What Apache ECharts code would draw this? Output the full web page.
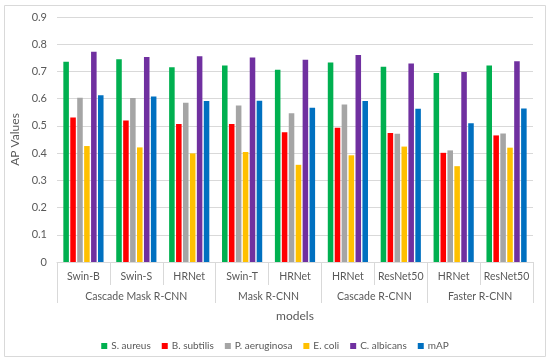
<!DOCTYPE html>
<html><head><meta charset="utf-8">
<script src="https://cdn.jsdelivr.net/npm/echarts@6/dist/echarts.min.js"></script>
<style>html,body{margin:0;padding:0;background:#fff}#c{width:550px;height:362px}</style>
</head><body><div id="c"></div>
<script>
const categories = ['Swin-B','Swin-S','HRNet','Swin-T','HRNet','HRNet','ResNet50','HRNet','ResNet50'];
const groupNames = ['Cascade Mask R-CNN','Mask R-CNN','Cascade R-CNN','Faster R-CNN'];
const groupSizes = [3,2,2,2];
const seriesNames = ['S. aureus','B. subtilis','P. aeruginosa','E. coli','C. albicans','mAP'];
const sAureus     = [0.736,0.745,0.715,0.722,0.706,0.733,0.717,0.694,0.722];
const bSubtilis   = [0.531,0.520,0.507,0.507,0.477,0.493,0.474,0.401,0.465];
const pAeruginosa = [0.603,0.602,0.585,0.575,0.546,0.579,0.471,0.410,0.472];
const eColi       = [0.426,0.421,0.399,0.404,0.357,0.392,0.424,0.352,0.420];
const cAlbicans   = [0.772,0.753,0.756,0.751,0.743,0.760,0.729,0.698,0.737];
const mAP         = [0.613,0.608,0.591,0.592,0.567,0.591,0.563,0.510,0.564];
const yTicks = [0,0.1,0.2,0.3,0.4,0.5,0.6,0.7,0.8,0.9];

const values = [sAureus,bSubtilis,pAeruginosa,eColi,cAlbicans,mAP];
const colors = ['#00b050','#ff0000','#a5a5a5','#ffc000','#7030a0','#0070c0'];

const bounds = [0]; groupSizes.forEach(s => bounds.push(bounds[bounds.length-1]+s));
const centers = groupSizes.map((s,i)=>bounds[i]+s/2);

const font = 'Lato, "Open Sans", sans-serif';
const chart = echarts.init(document.getElementById('c'));
chart.setOption({
  animation:false,
  textStyle:{fontFamily:font},
  graphic:[{type:'rect',shape:{x:4.5,y:5.5,width:541,height:351},style:{fill:'none',stroke:'#d9d9d9',lineWidth:1}}],
  grid:{left:57,right:17,top:17,bottom:100,containLabel:false},
  legend:{top:336,left:'center',itemWidth:6,itemHeight:6,itemGap:11,icon:'rect',
    textStyle:{color:'#595959',fontSize:10,fontFamily:font,padding:[0,0,0,-1]},data:seriesNames},
  xAxis:[
    {type:'category',data:categories,
     axisLine:{lineStyle:{color:'#d9d9d9'}},
     axisTick:{show:true,interval:0,length:23,lineStyle:{color:'#d9d9d9'}},
     axisLabel:{interval:0,color:'#595959',fontSize:10.5,margin:9,fontFamily:font}},
    {type:'value',min:0,max:categories.length,position:'bottom',
     axisLine:{show:false},splitLine:{show:false},
     axisTick:{show:true,customValues:bounds,length:41,lineStyle:{color:'#d9d9d9'}},
     axisLabel:{customValues:centers,color:'#595959',fontSize:10.5,margin:29,fontFamily:font,
       formatter:function(v){const i=centers.indexOf(v);return i>=0?groupNames[i]:'';}},
     name:'models',nameLocation:'middle',nameGap:48,
     nameTextStyle:{color:'#595959',fontSize:12,fontFamily:font}}
  ],
  yAxis:{type:'value',min:0,max:0.9,interval:0.1,
    name:'AP Values',nameLocation:'middle',nameGap:30,
    nameTextStyle:{color:'#595959',fontSize:12,fontFamily:font},
    axisLine:{show:false},axisTick:{show:false},
    splitLine:{lineStyle:{color:'#d9d9d9'}},
    axisLabel:{color:'#595959',fontSize:11,margin:10,fontFamily:font,
      formatter:function(v){const t=yTicks.find(x=>Math.abs(x-v)<1e-9);return t===undefined?'':String(t);}}},
  series:seriesNames.map((n,i)=>({name:n,type:'bar',xAxisIndex:0,data:values[i],
    itemStyle:{color:colors[i]},barGap:'25%',barCategoryGap:'24%'}))
});
</script></body></html>
